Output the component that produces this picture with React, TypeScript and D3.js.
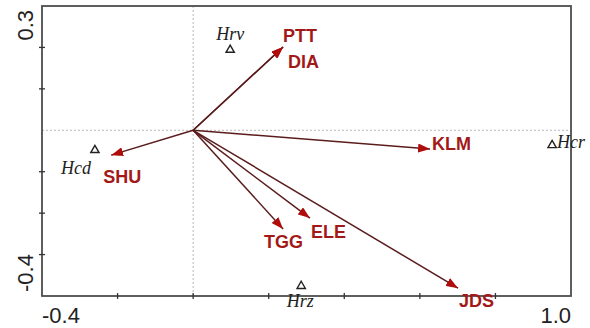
import React from 'react';
import * as d3 from 'd3';

// environmental variables (arrow tips)
const envNames = ['PTT', 'DIA', 'KLM', 'SHU', 'TGG', 'ELE', 'JDS'];
const envX = [0.238, 0.238, 0.627, -0.217, 0.238, 0.309, 0.701];
const envY = [0.201, 0.201, -0.045, -0.06, -0.238, -0.212, -0.381];

// species points
const spNames = ['Hrv', 'Hcr', 'Hcd', 'Hrz'];
const spX = [0.098, 0.95, -0.26, 0.286];
const spY = [0.194, -0.036, -0.048, -0.376];

const xTicks = [-0.2, 0, 0.2, 0.4, 0.6, 0.8];
const yTicks = [-0.3, -0.2, -0.1, 0.1, 0.2];

// label placement (px, relative to tip / point)
const envLabelOff: Record<string, [number, number]> = {
  PTT: [0, -5], DIA: [5, 21], KLM: [2, 1], SHU: [-8, 28],
  TGG: [-19, 19], ELE: [1, 20], JDS: [1, 19],
};
const spLabelOff: Record<string, [number, number, string]> = {
  Hrv: [0, -10, 'middle'], Hcr: [5, 3, 'start'], Hcd: [-19, 24, 'middle'], Hrz: [-1, 21, 'middle'],
};

const W = 590, H = 328;
const left = 42, right = 571, top = 6, bottom = 296;

const App: React.FC = () => {
  const x = d3.scaleLinear().domain([-0.4, 1.0]).range([left, right]);
  const y = d3.scaleLinear().domain([-0.4, 0.3]).range([bottom, top]);
  const tri = d3.symbol().type(d3.symbolTriangle).size(30)();

  return (
    <svg width={W} height={H} style={{ position: 'absolute', left: 0, top: 0, background: '#fff' }}>
      <defs>
        <marker id="arr" markerUnits="userSpaceOnUse" markerWidth={13} markerHeight={9}
          refX={12} refY={4.5} orient="auto">
          <path d="M0,0 L12,4.5 L0,9 Z" fill="#b00c0c" />
        </marker>
      </defs>

      {/* zero lines */}
      <line x1={x(0)} x2={x(0)} y1={top} y2={bottom} stroke="#b8b8b8" strokeDasharray="2,2" />
      <line x1={left} x2={right} y1={y(0)} y2={y(0)} stroke="#b8b8b8" strokeDasharray="2,2" />

      {/* frame */}
      <rect x={left} y={top} width={right - left} height={bottom - top} fill="none" stroke="#4d4d4d" strokeWidth={1.8} />

      {xTicks.map(t => (
        <line key={'xt' + t} x1={x(t)} x2={x(t)} y1={bottom - 3} y2={bottom + 3} stroke="#333" strokeWidth={1.3} />
      ))}
      {yTicks.map(t => (
        <line key={'yt' + t} x1={left - 3} x2={left + 3} y1={y(t)} y2={y(t)} stroke="#333" strokeWidth={1.3} />
      ))}

      <g fontFamily="'Liberation Sans', Arial, sans-serif" fontSize={22} fill="#222">
        <text x={left} y={323} textAnchor="start">-0.4</text>
        <text x={right} y={323} textAnchor="end">1.0</text>
        <text transform={`translate(33,${top + 4}) rotate(-90)`} textAnchor="end">0.3</text>
        <text transform={`translate(33,${bottom - 4}) rotate(-90)`} textAnchor="start">-0.4</text>
      </g>

      {/* arrows */}
      {envNames.map((n, i) => (
        <line key={'a' + n} x1={x(0)} y1={y(0)} x2={x(envX[i])} y2={y(envY[i])}
          stroke="#5a1c1c" strokeWidth={1.5} markerEnd="url(#arr)" />
      ))}
      <g fontFamily="'Liberation Sans', Arial, sans-serif" fontSize={18} fontWeight="bold" fill="#a31818">
        {envNames.map((n, i) => (
          <text key={'l' + n} x={x(envX[i]) + envLabelOff[n][0]} y={y(envY[i]) + envLabelOff[n][1]}>{n}</text>
        ))}
      </g>

      {/* species */}
      {spNames.map((n, i) => (
        <path key={'s' + n} d={tri || ''} transform={`translate(${x(spX[i])},${y(spY[i])})`}
          fill="none" stroke="#222" strokeWidth={1.4} />
      ))}
      <g fontFamily="'Liberation Serif', 'Times New Roman', serif" fontSize={18} fontStyle="italic" fill="#222">
        {spNames.map((n, i) => (
          <text key={'sl' + n} x={x(spX[i]) + spLabelOff[n][0]} y={y(spY[i]) + spLabelOff[n][1]}
            textAnchor={spLabelOff[n][2]}>{n}</text>
        ))}
      </g>
    </svg>
  );
};

export default App;
